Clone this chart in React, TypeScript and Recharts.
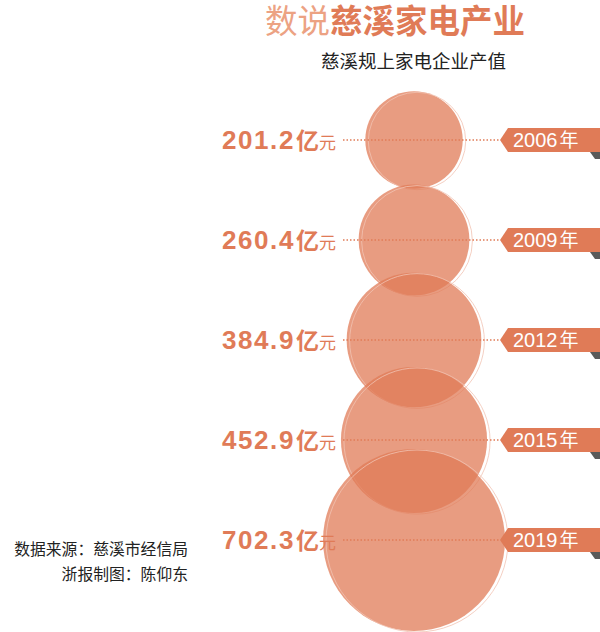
import { ScatterChart, Scatter, XAxis, YAxis, ZAxis } from 'recharts'

const years = ['2006', '2009', '2012', '2015', '2019']
const values = [201.2, 260.4, 384.9, 452.9, 702.3]
const seriesName = '产值'

const data = years.map((year, i) => ({ year, value: values[i], series: seriesName }))

const W = 600
const H = 632
const ORANGE = '#e07b57'
const LABEL_X = 336
const LINE_START = 343
const TAG_X = 500

const FONT_CN = '"Noto Sans CJK SC", sans-serif'
const FONT_NUM = '"Liberation Sans", "Noto Sans CJK SC", sans-serif'

function Bubble(props: any) {
  const { cx, cy, width, size } = props
  const r = width ? width / 2 : Math.sqrt(size / Math.PI)
  return (
    <g>
      <circle cx={cx} cy={cy} r={r} fill={ORANGE} fillOpacity={0.75} />
      <circle cx={cx + 3} cy={cy + 1} r={r} fill="none" stroke="#f1c3b3" strokeWidth={0.8} />
    </g>
  )
}

function RowLabel(props: any) {
  const { cy, payload } = props
  return (
    <g>
      <line
        x1={LINE_START}
        x2={TAG_X}
        y1={cy}
        y2={cy}
        stroke={ORANGE}
        strokeWidth={1.5}
        strokeDasharray="1.5 2"
      />
      <text x={LABEL_X} y={cy + 9} textAnchor="end" fill={ORANGE} fontFamily={FONT_NUM}>
        <tspan fontSize={26} fontWeight="bold" letterSpacing={1.6}>
          {payload.value.toFixed(1)}
        </tspan>
        <tspan fontSize={23} fontWeight="bold" fontFamily={FONT_CN} dx={1}>亿</tspan>
        <tspan fontSize={17} fontFamily={FONT_CN}>元</tspan>
      </text>
      <polygon
        points={`${TAG_X},${cy} ${TAG_X + 8},${cy - 12} ${W},${cy - 12} ${W},${cy + 12} ${TAG_X + 8},${cy + 12}`}
        fill={ORANGE}
      />
      <polygon
        points={`${W - 10},${cy + 12} ${W},${cy + 12} ${W},${cy + 19} ${W - 5},${cy + 19}`}
        fill="#5a5a5a"
      />
      <text x={TAG_X + 13} y={cy + 7} fill="#fff" fontSize={20} fontFamily={FONT_NUM}>
        {payload.year}
        <tspan fontFamily={FONT_CN} fontSize={19} dx={2}>年</tspan>
      </text>
    </g>
  )
}

export default function App() {
  return (
    <div style={{ position: 'absolute', left: 0, top: 0, width: W, height: H, background: '#fff' }}>
      <ScatterChart width={W} height={H} margin={{ top: 90, right: 0, bottom: 42, left: 228 }}>
        <XAxis type="category" dataKey="series" allowDuplicatedCategory={false} hide />
        <YAxis type="category" dataKey="year" reversed hide />
        <ZAxis type="number" dataKey="value" domain={[0, 'dataMax']} range={[0, Math.PI * 91 * 91]} />
        <Scatter data={data} shape={<Bubble />} isAnimationActive={false} />
        <Scatter data={data} shape={<RowLabel />} isAnimationActive={false} />
      </ScatterChart>
      <svg
        width={W}
        height={H}
        style={{ position: 'absolute', left: 0, top: 0, pointerEvents: 'none' }}
      >
        <text x={265} y={33} fontSize={32.5} fontFamily={FONT_CN}>
          <tspan fill="#eca283">数说</tspan>
          <tspan fill={ORANGE} fontWeight="bold">慈溪家电产业</tspan>
        </text>
        <text x={321} y={68} fontSize={18.5} fill="#222" fontFamily={FONT_CN}>
          慈溪规上家电企业产值
        </text>
        <text x={188} y={555} fontSize={15.8} fill="#222" textAnchor="end" fontFamily={FONT_CN}>
          数据来源：慈溪市经信局
        </text>
        <text x={188} y={580} fontSize={15.8} fill="#222" textAnchor="end" fontFamily={FONT_CN}>
          浙报制图：陈仰东
        </text>
      </svg>
    </div>
  )
}
